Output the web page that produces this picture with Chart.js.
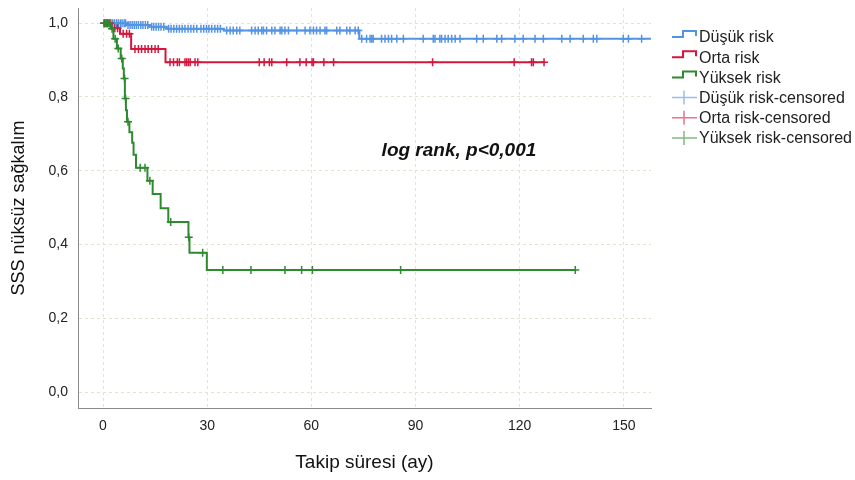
<!DOCTYPE html>
<html>
<head>
<meta charset="utf-8">
<script src="https://cdn.jsdelivr.net/npm/chart.js@4.4.1/dist/chart.umd.min.js"></script>
<style>
html, body { margin: 0; padding: 0; background: #fff; }
#wrap { width: 855px; height: 480px; }
</style>
</head>
<body>
<div id="wrap"><canvas id="myChart"></canvas></div>
<script>
var groups = ['Düşük risk', 'Orta risk', 'Yüksek risk'];
var xTicks = [0, 30, 60, 90, 120, 150];
var yTicks = [0, 0.2, 0.4, 0.6, 0.8, 1.0];

// step times (ay) and survival after each step, censored times
var dusukTime = [0, 6.8, 13.5, 18.3, 34.8, 73.8, 160];
var dusukSurv = [1.0, 0.995, 0.990, 0.985, 0.980, 0.958, 0.958];
var dusukCensor = [0.3, 0.8, 1.3, 1.8, 2.3, 2.8, 3.3, 3.9, 4.4, 5.0, 5.5, 6.1, 6.5,
  7.2, 7.8, 8.4, 9.0, 9.6, 10.2, 10.9, 11.5, 12.2, 12.9, 14.0, 14.6, 15.3, 16.0, 16.7, 17.5,
  18.9, 19.6, 20.4, 21.2, 22.0, 22.8, 23.6, 24.5, 25.3, 26.1, 27.0, 28.2, 29.0, 29.8, 30.5,
  31.3, 32.2, 33.0, 33.8, 35.6, 36.6, 37.5, 38.5, 39.4, 42.8, 43.8, 44.7, 45.7, 46.2, 47.1,
  48.6, 49.5, 51.0, 51.5, 52.4, 53.4, 55.8, 58.2, 59.6, 60.6, 61.5, 62.5, 63.9, 64.4, 67.3,
  68.2, 70.2, 71.1, 72.6, 73.5, 74.5, 75.9, 76.9, 77.4, 77.8, 80.2, 81.2, 82.2, 83.1, 84.6,
  86.5, 92.2, 95.1, 95.6, 97.0, 97.5, 98.5, 99.4, 100.4, 101.4, 102.8, 107.6, 109.5, 113.4,
  114.8, 118.6, 121.0, 124.4, 126.8, 132.1, 134.5, 138.3, 141.2, 142.2, 149.8, 151.3, 155.1];

var ortaTime = [0, 2.5, 4.9, 8.1, 18.0, 127.3];
var ortaSurv = [1.0, 0.986, 0.971, 0.930, 0.894, 0.894];
var ortaCensor = [0.5, 1.2, 2.0, 3.4, 4.2, 5.8, 6.8, 7.6, 9.2, 10.2, 11.1, 12.1, 13.0, 14.0,
  15.0, 15.9, 19.3, 20.3, 21.4, 22.0, 23.6, 24.1, 24.6, 25.1, 26.5, 27.3, 45.0, 46.4, 47.9,
  48.6, 52.9, 56.7, 58.5, 60.2, 60.6, 63.6, 66.4, 94.9, 118.4, 123.4, 123.9, 127.0];

var yuksekTime = [0, 2.2, 3.0, 4.0, 5.1, 5.7, 6.0, 6.3, 6.6, 6.9, 7.6, 8.4, 8.8, 9.5, 12.8,
  14.3, 16.6, 18.8, 24.6, 24.9, 29.9, 136];
var yuksekSurv = [1.0, 0.985, 0.958, 0.931, 0.904, 0.877, 0.850, 0.796, 0.764, 0.733, 0.704,
  0.676, 0.643, 0.608, 0.573, 0.537, 0.498, 0.461, 0.420, 0.378, 0.331, 0.331];
var yuksekCensor = [0.3, 1.0, 1.7, 2.6, 3.5, 4.4, 5.4, 6.2, 6.5, 7.2, 10.7, 12.1, 13.5, 19.5,
  24.7, 28.7, 34.5, 42.6, 52.4, 57.2, 60.3, 85.7, 136];

var colors = ['#5393e3', '#d5173d', '#2e8a2e'];
var legendCensorColors = ['rgba(83,147,227,0.6)', 'rgba(213,23,61,0.6)', 'rgba(46,138,46,0.6)'];

function pts(times, surv) {
  return times.map(function (t, i) { return {x: t, y: surv[i]}; });
}
function levelAt(times, surv, t) {
  var v = surv[0];
  for (var i = 0; i < times.length; i++) { if (times[i] <= t) v = surv[i]; }
  return v;
}
function censorPts(cens, times, surv) {
  return cens.map(function (t) { return {x: t, y: levelAt(times, surv, t)}; });
}

var series = [
  [dusukTime, dusukSurv, dusukCensor],
  [ortaTime, ortaSurv, ortaCensor],
  [yuksekTime, yuksekSurv, yuksekCensor]
];

var datasets = [];
series.forEach(function (s, i) {
  datasets.push({
    label: groups[i], data: pts(s[0], s[1]), showLine: true, stepped: true,
    borderColor: colors[i], borderWidth: 2, pointRadius: 0, fill: false, order: 3 - i
  });
});
series.forEach(function (s, i) {
  datasets.push({
    label: groups[i] + '-censored', data: censorPts(s[2], s[0], s[1]), showLine: false,
    pointStyle: 'cross', pointRadius: 4, borderWidth: 1.5, borderColor: colors[i],
    backgroundColor: colors[i], legendColor: legendCensorColors[i], order: 3 - i
  });
});

// legend drawn by hand so the step / cross glyphs look like the SPSS one
var legendPlugin = {
  id: 'kmLegend',
  afterDraw: function (chart) {
    var ctx = chart.ctx;
    ctx.save();
    ctx.font = '16px "Liberation Sans", Arial';
    ctx.textBaseline = 'middle';
    ctx.fillStyle = '#222';
    chart.data.datasets.forEach(function (ds, i) {
      var cy = 37 + i * 20.2;
      var x0 = 672;
      ctx.beginPath();
      if (ds.showLine) {
        ctx.strokeStyle = ds.borderColor;
        ctx.lineWidth = 2;
        ctx.moveTo(x0, cy); ctx.lineTo(x0 + 11, cy); ctx.lineTo(x0 + 11, cy - 6);
        ctx.lineTo(x0 + 24, cy - 6); ctx.lineTo(x0 + 24, cy - 1);
      } else {
        ctx.strokeStyle = ds.legendColor;
        ctx.lineWidth = 1.5;
        ctx.moveTo(x0, cy); ctx.lineTo(x0 + 25, cy);
        ctx.moveTo(x0 + 12, cy - 7); ctx.lineTo(x0 + 12, cy + 7);
      }
      ctx.stroke();
      ctx.fillText(ds.label, x0 + 27, cy + 1);
    });
    ctx.restore();
  }
};

var notePlugin = {
  id: 'logRank',
  afterDatasetsDraw: function (chart) {
    var ctx = chart.ctx;
    ctx.save();
    ctx.font = 'italic bold 19px "Liberation Sans", Arial';
    ctx.textAlign = 'center';
    ctx.textBaseline = 'middle';
    ctx.fillStyle = '#111';
    ctx.fillText('log rank, p<0,001', chart.scales.x.getPixelForValue(102.5), chart.scales.y.getPixelForValue(0.654));
    ctx.restore();
  }
};

var ctx = document.getElementById('myChart');
var myChart = new Chart(ctx, {
  type: 'scatter',
  data: {datasets: datasets},
  plugins: [legendPlugin, notePlugin],
  options: {
    responsive: true,
    maintainAspectRatio: false,
    animation: false,
    layout: {padding: {top: 8, right: 204, left: 0, bottom: 0}},
    plugins: {legend: {display: false}, tooltip: {enabled: false}},
    scales: {
      x: {
        type: 'linear', min: -7.2, max: 157.8,
        afterBuildTicks: function (s) { s.ticks = xTicks.map(function (v) { return {value: v}; }); },
        afterFit: function (s) { s.height = 72; s.paddingLeft = 0; s.paddingRight = 0; },
        grid: {color: '#e6e3cc', drawTicks: false},
        border: {display: true, color: '#8a8a8a', width: 1, dash: [3, 3]},
        ticks: {color: '#222', padding: 10, font: {family: '"Liberation Sans", Arial', size: 14}},
        title: {display: true, text: 'Takip süresi (ay)', color: '#111',
          font: {family: '"Liberation Sans", Arial', size: 19}, padding: {top: 0, bottom: 6}}
      },
      y: {
        type: 'linear', min: -0.043, max: 1.041,
        afterBuildTicks: function (s) { s.ticks = yTicks.map(function (v) { return {value: v}; }); },
        afterFit: function (s) { s.width = 78; s.paddingTop = 0; s.paddingBottom = 0; },
        grid: {color: '#e6e3cc', drawTicks: false},
        border: {display: true, color: '#8a8a8a', width: 1, dash: [3, 3]},
        ticks: {color: '#222', padding: 10, font: {family: '"Liberation Sans", Arial', size: 14},
          callback: function (v) { return v.toFixed(1).replace('.', ','); }},
        title: {display: true, text: 'SSS nüksüz sağkalım', color: '#111',
          font: {family: '"Liberation Sans", Arial', size: 18}, padding: {top: 8, bottom: 0}}
      }
    }
  }
});
</script>
</body>
</html>
